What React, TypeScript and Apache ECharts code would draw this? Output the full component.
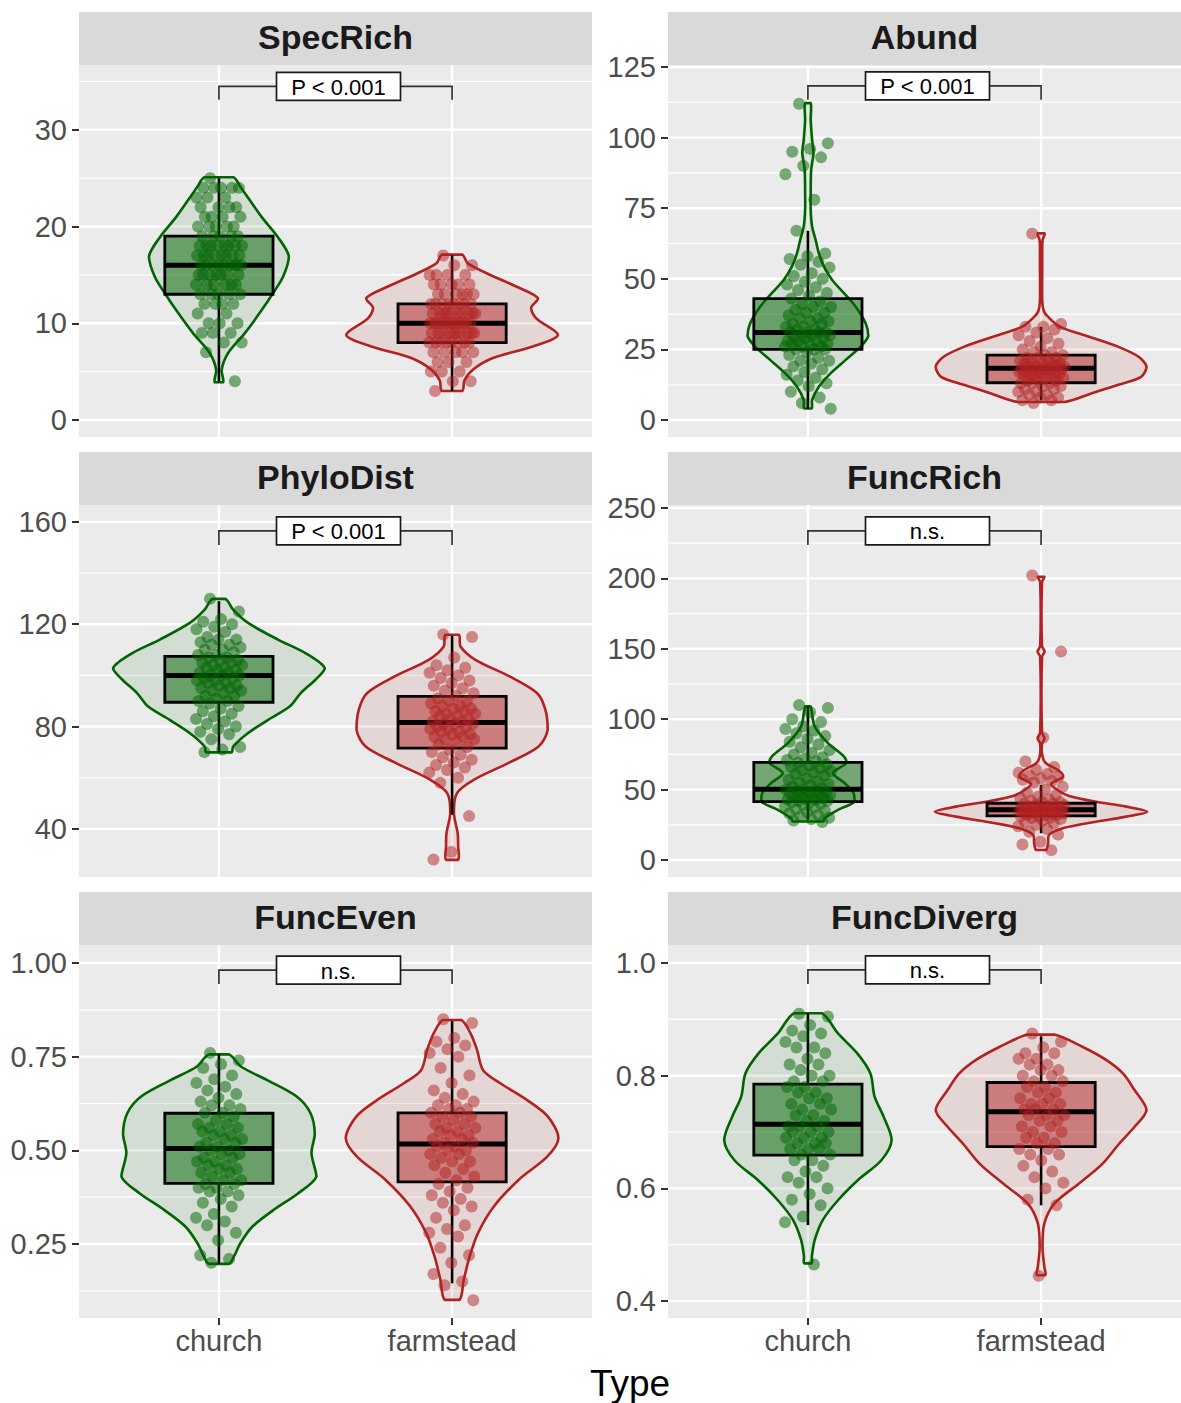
import React, { useEffect, useRef } from 'react';
import * as echarts from 'echarts';

// ---------------- data ----------------
const CATEGORIES = ['church', 'farmstead'];
const PANEL_TITLES = ['SpecRich', 'Abund', 'PhyloDist', 'FuncRich', 'FuncEven', 'FuncDiverg'];
const SIG_LABELS = ['P < 0.001', 'P < 0.001', 'P < 0.001', 'n.s.', 'n.s.', 'n.s.'];
const AXIS_TITLE = 'Type';

const Y_RANGES = [[-1.76, 36.7], [-6.0, 125.7], [21.2, 166.6], [-12.07, 252.1], [0.0525, 1.048], [0.37, 1.032]];
const Y_TICKS = [[0, 10, 20, 30], [0, 25, 50, 75, 100, 125], [40, 80, 120, 160], [0, 50, 100, 150, 200, 250], [0.25, 0.5, 0.75, 1.0], [0.4, 0.6, 0.8, 1.0]];
const Y_TICK_LABELS = [['0', '10', '20', '30'], ['0', '25', '50', '75', '100', '125'], ['40', '80', '120', '160'], ['0', '50', '100', '150', '200', '250'], ['0.25', '0.50', '0.75', '1.00'], ['0.4', '0.6', '0.8', '1.0']];
const Y_MINOR = [[5, 15, 25, 35], [12.5, 37.5, 62.5, 87.5, 112.5], [60, 100, 140], [25, 75, 125, 175, 225], [0.125, 0.375, 0.625, 0.875], [0.5, 0.7, 0.9]];
// bracket: [level of horizontal line, lower end of the ticks]
const BRACKETS = [[34.5, 33.1], [118.3, 113.4], [156.5, 151.0], [233.7, 223.7], [0.981, 0.944], [0.988, 0.963]];

// box stats: [lower whisker, q1, median, q3, upper whisker]
const BOX_STATS = [
  [[4, 13, 16, 19, 25], [3, 8, 10, 12, 17]],
  [[4, 25, 31, 43, 67], [7, 13.2, 18.3, 23, 33]],
  [[70, 89.5, 100, 107.4, 129], [45.5, 71.6, 81.6, 91.8, 115.5]],
  [[28.5, 41.5, 50.3, 69.3, 109], [19, 31.3, 35.6, 40.3, 53.4]],
  [[0.197, 0.412, 0.505, 0.599, 0.756], [0.145, 0.416, 0.517, 0.6, 0.845]],
  [[0.535, 0.659, 0.714, 0.785, 0.91], [0.57, 0.674, 0.736, 0.788, 0.87]],
];

// violin outlines: [y value, half width in x-axis units], top to bottom
const VIOLIN_SPECRICH_CHURCH = [[25.1, 0.062], [24.2, 0.09], [23.5, 0.11], [21.0, 0.183], [18.9, 0.253], [16.9, 0.3], [14.8, 0.275], [13.1, 0.232], [11.1, 0.176], [9.0, 0.112], [6.9, 0.039], [5.2, 0.012], [3.9, 0.018]];
const VIOLIN_SPECRICH_FARM = [[17.1, 0.043], [16.2, 0.067], [15.2, 0.146], [13.8, 0.275], [12.6, 0.368], [11.6, 0.339], [10.5, 0.361], [8.8, 0.454], [7.6, 0.346], [6.4, 0.175], [5.2, 0.089], [4.1, 0.053], [3.0, 0.043]];
const VIOLIN_ABUND_CHURCH = [[112.2, 0.012], [106.3, 0.012], [99.2, 0.018], [94.5, 0.024], [88.6, 0.014], [80.3, 0.012], [74.4, 0.012], [68.5, 0.018], [63.8, 0.033], [59.0, 0.047], [54.3, 0.069], [49.6, 0.104], [44.9, 0.155], [40.1, 0.205], [34.2, 0.248], [29.8, 0.259], [26.0, 0.226], [21.3, 0.162], [16.5, 0.097], [11.8, 0.047], [7.1, 0.018], [4.1, 0.016]];
const VIOLIN_ABUND_FARM = [[66.1, 0.015], [63.5, 0.006], [55, 0.005], [42, 0.005], [38.5, 0.012], [36.6, 0.029], [33.1, 0.08], [29.5, 0.206], [26.0, 0.329], [22.4, 0.418], [18.9, 0.452], [15.3, 0.429], [12.4, 0.328], [9.4, 0.215], [6.4, 0.1]];
const VIOLIN_PHYLO_CHURCH = [[129.9, 0.028], [125.7, 0.061], [120.5, 0.125], [114.0, 0.253], [108.7, 0.371], [102.8, 0.454], [98.3, 0.414], [93.1, 0.351], [87.8, 0.303], [82.6, 0.211], [77.4, 0.124], [72.2, 0.061], [69.9, 0.054]];
const VIOLIN_PHYLO_FARM = [[115.9, 0.029], [111.3, 0.036], [106.1, 0.1], [99.6, 0.246], [93.1, 0.364], [86.6, 0.4], [78.7, 0.41], [72.2, 0.371], [65.7, 0.24], [59.2, 0.093], [54.0, 0.021], [46.1, 0.008], [38.3, 0.024], [33.1, 0.026], [27.9, 0.026]];
const VIOLIN_FUNCRICH_CHURCH = [[109.1, 0.011], [94.9, 0.029], [83.0, 0.086], [73.5, 0.155], [68.8, 0.164], [61.7, 0.108], [54.6, 0.158], [47.5, 0.196], [41.5, 0.2], [35.6, 0.129], [29.7, 0.072], [27.3, 0.064]];
const VIOLIN_FUNCRICH_FARM = [[201.2, 0.014], [197.2, 0.004], [152, 0.004], [148.1, 0.015], [144.2, 0.004], [90.5, 0.004], [86.4, 0.015], [82.5, 0.004], [73.5, 0.006], [68.7, 0.021], [63.9, 0.073], [59.2, 0.094], [54.0, 0.043], [49.7, 0.07], [45.5, 0.12], [41.4, 0.236], [37.9, 0.365], [34.3, 0.455], [30.8, 0.365], [27.2, 0.236], [22.5, 0.093], [17.8, 0.034], [11.9, 0.03], [7.1, 0.021]];
const VIOLIN_FUNCEVEN_CHURCH = [[0.756, 0.043], [0.723, 0.096], [0.688, 0.205], [0.643, 0.335], [0.599, 0.393], [0.545, 0.411], [0.492, 0.397], [0.43, 0.418], [0.385, 0.339], [0.341, 0.235], [0.296, 0.143], [0.252, 0.092], [0.216, 0.064], [0.197, 0.043]];
const VIOLIN_FUNCEVEN_FARM = [[0.848, 0.039], [0.812, 0.079], [0.768, 0.107], [0.714, 0.133], [0.679, 0.207], [0.634, 0.322], [0.59, 0.411], [0.532, 0.456], [0.483, 0.408], [0.421, 0.285], [0.35, 0.179], [0.279, 0.111], [0.216, 0.075], [0.154, 0.05], [0.101, 0.032]];
const VIOLIN_FUNCDIV_CHURCH = [[0.911, 0.059], [0.875, 0.129], [0.84, 0.211], [0.804, 0.268], [0.763, 0.286], [0.727, 0.325], [0.686, 0.359], [0.65, 0.315], [0.615, 0.215], [0.579, 0.129], [0.544, 0.064], [0.508, 0.029], [0.479, 0.017], [0.467, 0.016]];
const VIOLIN_FUNCDIV_FARM = [[0.873, 0.057], [0.851, 0.179], [0.828, 0.279], [0.804, 0.351], [0.775, 0.4], [0.739, 0.452], [0.709, 0.4], [0.68, 0.336], [0.644, 0.264], [0.609, 0.164], [0.573, 0.057], [0.538, 0.014], [0.496, 0.006], [0.461, 0.014], [0.446, 0.018]];

// jittered observations (y values)
const PTS_SPECRICH_CHURCH = [25, 24, 24, 24, 24, 24, 23, 23, 23, 22, 22, 22, 22, 21, 21, 21, 21, 20, 20, 20, 20, 20, 19, 19, 19, 19, 19, 18, 18, 18, 18, 18, 18, 18, 18, 17, 17, 17, 17, 17, 17, 17, 17, 16, 16, 16, 16, 16, 16, 16, 16, 16, 15, 15, 15, 15, 15, 15, 15, 14, 14, 14, 14, 14, 14, 13, 13, 13, 13, 13, 12, 12, 12, 12, 11, 11, 10, 10, 10, 9, 9, 9, 8, 8, 7, 4];
const PTS_SPECRICH_FARM = [17, 16, 16, 15, 15, 15, 15, 14, 14, 14, 14, 14, 13, 13, 13, 13, 13, 13, 12, 12, 12, 12, 12, 12, 12, 12, 11, 11, 11, 11, 11, 11, 11, 11, 11, 11, 10, 10, 10, 10, 10, 10, 10, 10, 10, 10, 10, 10, 9, 9, 9, 9, 9, 9, 9, 9, 9, 9, 8, 8, 8, 8, 8, 8, 8, 8, 7, 7, 7, 7, 7, 6, 6, 6, 5, 5, 5, 4, 4, 3];
const PTS_ABUND_CHURCH = [112, 98, 96, 95, 93, 90, 87, 78, 67, 59, 58, 57, 56, 55, 54, 52, 51, 50, 49, 48, 47, 46, 45, 44, 43, 42, 41, 40, 40, 39, 38, 38, 37, 36, 36, 35, 35, 34, 34, 33, 33, 32, 32, 31, 31, 31, 31, 30, 30, 30, 29, 29, 29, 28, 28, 28, 27, 27, 27, 26, 26, 26, 25, 25, 25, 24, 23, 22, 21, 21, 20, 19, 18, 17, 16, 15, 14, 13, 12, 10, 8, 6, 4];
const PTS_ABUND_FARM = [66, 34, 33, 33, 32, 31, 30, 29, 28, 27, 26, 25, 24, 24, 23, 23, 22, 22, 22, 21, 21, 21, 20, 20, 20, 20, 19, 19, 19, 19, 19, 18, 18, 18, 18, 18, 18, 17, 17, 17, 17, 17, 16, 16, 16, 16, 15, 15, 15, 15, 14, 14, 14, 13, 13, 13, 12, 12, 11, 11, 10, 10, 9, 9, 8, 8, 7, 7, 6];
const PTS_PHYLO_CHURCH = [130, 125, 122, 121, 120, 119, 118, 117, 115, 114, 114, 113, 112, 112, 111, 110, 110, 109, 108, 108, 107, 107, 106, 106, 105, 105, 104, 104, 103, 103, 102, 102, 101, 101, 100, 100, 100, 99, 99, 98, 98, 97, 97, 96, 96, 95, 95, 94, 94, 93, 92, 92, 91, 90, 90, 89, 88, 87, 86, 85, 84, 83, 82, 81, 80, 79, 78, 77, 75, 72, 71, 70];
const PTS_PHYLO_FARM = [116, 115, 107, 104, 103, 102, 101, 100, 99, 98, 97, 96, 95, 94, 93, 92, 91, 90, 90, 89, 88, 88, 87, 87, 86, 86, 85, 85, 84, 84, 83, 83, 82, 82, 81, 81, 81, 80, 80, 79, 79, 78, 78, 77, 77, 76, 76, 75, 75, 74, 73, 72, 71, 70, 69, 68, 67, 66, 65, 64, 63, 62, 60, 58, 45, 31, 28];
const PTS_FUNCRICH_CHURCH = [110, 108, 105, 100, 98, 95, 93, 92, 90, 88, 86, 84, 82, 80, 78, 76, 75, 73, 72, 71, 70, 69, 68, 67, 66, 65, 64, 63, 62, 61, 60, 58, 57, 56, 55, 54, 53, 52, 51, 50, 50, 49, 49, 48, 48, 47, 47, 46, 46, 45, 45, 44, 44, 43, 43, 42, 42, 41, 41, 40, 39, 38, 37, 36, 35, 34, 33, 32, 31, 30, 29, 28, 27];
const PTS_FUNCRICH_FARM = [202, 148, 87, 70, 66, 64, 62, 61, 60, 59, 58, 57, 56, 55, 52, 50, 48, 46, 45, 44, 43, 42, 41, 41, 40, 40, 39, 39, 38, 38, 38, 37, 37, 37, 36, 36, 36, 36, 35, 35, 35, 35, 34, 34, 34, 34, 33, 33, 33, 32, 32, 32, 31, 31, 30, 30, 29, 28, 27, 26, 25, 24, 22, 20, 18, 13, 11, 7];
const PTS_FUNCEVEN_CHURCH = [0.76, 0.74, 0.73, 0.72, 0.7, 0.69, 0.68, 0.67, 0.66, 0.65, 0.64, 0.63, 0.62, 0.62, 0.61, 0.6, 0.6, 0.59, 0.58, 0.57, 0.57, 0.56, 0.56, 0.55, 0.55, 0.54, 0.54, 0.53, 0.53, 0.52, 0.52, 0.51, 0.51, 0.5, 0.5, 0.49, 0.49, 0.48, 0.48, 0.47, 0.47, 0.46, 0.46, 0.45, 0.45, 0.44, 0.44, 0.43, 0.42, 0.42, 0.41, 0.41, 0.4, 0.4, 0.39, 0.39, 0.38, 0.37, 0.36, 0.35, 0.33, 0.32, 0.31, 0.3, 0.28, 0.26, 0.22, 0.21, 0.2];
const PTS_FUNCEVEN_FARM = [0.85, 0.84, 0.8, 0.79, 0.78, 0.77, 0.76, 0.75, 0.72, 0.7, 0.68, 0.66, 0.65, 0.64, 0.63, 0.62, 0.62, 0.61, 0.61, 0.6, 0.6, 0.59, 0.59, 0.58, 0.57, 0.57, 0.56, 0.56, 0.55, 0.55, 0.54, 0.54, 0.53, 0.53, 0.52, 0.52, 0.51, 0.51, 0.5, 0.5, 0.49, 0.49, 0.48, 0.47, 0.47, 0.46, 0.45, 0.44, 0.43, 0.42, 0.41, 0.4, 0.39, 0.38, 0.37, 0.36, 0.35, 0.34, 0.32, 0.3, 0.29, 0.28, 0.27, 0.24, 0.22, 0.2, 0.17, 0.15, 0.14, 0.1];
const PTS_FUNCDIV_CHURCH = [0.91, 0.905, 0.89, 0.88, 0.875, 0.87, 0.86, 0.85, 0.85, 0.84, 0.83, 0.82, 0.82, 0.81, 0.8, 0.8, 0.79, 0.79, 0.78, 0.78, 0.77, 0.77, 0.76, 0.76, 0.75, 0.75, 0.74, 0.74, 0.73, 0.73, 0.72, 0.72, 0.71, 0.71, 0.71, 0.7, 0.7, 0.7, 0.69, 0.69, 0.69, 0.68, 0.68, 0.68, 0.67, 0.67, 0.67, 0.66, 0.66, 0.65, 0.65, 0.64, 0.63, 0.62, 0.62, 0.61, 0.6, 0.59, 0.58, 0.57, 0.55, 0.54, 0.465];
const PTS_FUNCDIV_FARM = [0.875, 0.86, 0.85, 0.84, 0.84, 0.83, 0.83, 0.82, 0.82, 0.81, 0.81, 0.8, 0.8, 0.79, 0.79, 0.78, 0.78, 0.77, 0.77, 0.76, 0.76, 0.75, 0.75, 0.75, 0.74, 0.74, 0.74, 0.73, 0.73, 0.73, 0.72, 0.72, 0.71, 0.71, 0.7, 0.7, 0.69, 0.69, 0.68, 0.68, 0.67, 0.67, 0.66, 0.66, 0.65, 0.64, 0.63, 0.62, 0.61, 0.6, 0.58, 0.57, 0.445];

const VIOLINS = [
  [VIOLIN_SPECRICH_CHURCH, VIOLIN_SPECRICH_FARM],
  [VIOLIN_ABUND_CHURCH, VIOLIN_ABUND_FARM],
  [VIOLIN_PHYLO_CHURCH, VIOLIN_PHYLO_FARM],
  [VIOLIN_FUNCRICH_CHURCH, VIOLIN_FUNCRICH_FARM],
  [VIOLIN_FUNCEVEN_CHURCH, VIOLIN_FUNCEVEN_FARM],
  [VIOLIN_FUNCDIV_CHURCH, VIOLIN_FUNCDIV_FARM],
];
const POINTS = [
  [PTS_SPECRICH_CHURCH, PTS_SPECRICH_FARM],
  [PTS_ABUND_CHURCH, PTS_ABUND_FARM],
  [PTS_PHYLO_CHURCH, PTS_PHYLO_FARM],
  [PTS_FUNCRICH_CHURCH, PTS_FUNCRICH_FARM],
  [PTS_FUNCEVEN_CHURCH, PTS_FUNCEVEN_FARM],
  [PTS_FUNCDIV_CHURCH, PTS_FUNCDIV_FARM],
];

// ---------------- styles ----------------
const FONT = "'Liberation Sans', Arial, Helvetica, sans-serif";
const LINE_COLORS = ['#006400', '#B22222'];
const VIOLIN_FILLS = ['rgba(0,100,0,0.1)', 'rgba(178,34,34,0.1)'];
const BOX_FILLS = ['rgba(0,100,0,0.5)', 'rgba(178,34,34,0.5)'];
const BOX_HALF = 0.232;
const JITTER_HALF = 0.1;
const PANEL_LEFTS = [79, 668];
const PANEL_TOPS = [65, 505, 945];
const PANEL_HEIGHTS = [372, 372, 373];
const PANEL_WIDTH = 513;
const STRIP_H = 53;

function jitter(i: number) {
  return (((i * 0.6180339887 + 0.31) % 1) - 0.5) * 2 * JITTER_HALF;
}

function buildOption() {
  const grid: any[] = [];
  const xAxis: any[] = [];
  const yAxis: any[] = [];
  const series: any[] = [];
  const graphic: any[] = [];

  PANEL_TITLES.forEach((title, p) => {
    const col = p % 2;
    const row = Math.floor(p / 2);
    const left = PANEL_LEFTS[col];
    const top = PANEL_TOPS[row];
    const height = PANEL_HEIGHTS[row];
    const bottomRow = row === 2;

    grid.push({ left, top, width: PANEL_WIDTH, height, show: true, backgroundColor: '#EBEBEB', borderWidth: 0 });

    xAxis.push({
      type: 'value', gridIndex: p, min: 0.4, max: 2.6,
      axisLine: { show: false }, splitLine: { show: false },
      axisTick: { show: bottomRow, customValues: [1, 2], length: 7, lineStyle: { color: '#333333', width: 2 } },
      axisLabel: {
        show: bottomRow, customValues: [1, 2], margin: 8,
        formatter: (v: number) => CATEGORIES[Math.round(v) - 1] ?? '',
        color: '#4D4D4D', fontSize: 29, fontFamily: FONT,
      },
    });

    yAxis.push({
      type: 'value', gridIndex: p, min: Y_RANGES[p][0], max: Y_RANGES[p][1],
      axisLine: { show: false }, splitLine: { show: false },
      axisTick: { show: true, customValues: Y_TICKS[p], length: 7, lineStyle: { color: '#333333', width: 2 } },
      axisLabel: {
        show: true, customValues: Y_TICKS[p], margin: 12,
        formatter: (v: number) => {
          const k = Y_TICKS[p].findIndex((t) => Math.abs(t - v) < 1e-9);
          return k >= 0 ? Y_TICK_LABELS[p][k] : String(v);
        },
        color: '#4D4D4D', fontSize: 29, fontFamily: FONT,
      },
    });

    // grid lines
    series.push({
      type: 'custom', xAxisIndex: p, yAxisIndex: p, z: 1, silent: true,
      data: [[1, Y_RANGES[p][0]]],
      renderItem: (params: any, api: any) => {
        const cs = params.coordSys;
        const children: any[] = [];
        Y_MINOR[p].forEach((v) => {
          const y = api.coord([1, v])[1];
          children.push({ type: 'line', shape: { x1: cs.x, y1: y, x2: cs.x + cs.width, y2: y }, style: { stroke: '#FFFFFF', lineWidth: 1.2 } });
        });
        Y_TICKS[p].forEach((v) => {
          const y = api.coord([1, v])[1];
          children.push({ type: 'line', shape: { x1: cs.x, y1: y, x2: cs.x + cs.width, y2: y }, style: { stroke: '#FFFFFF', lineWidth: 2.4 } });
        });
        [1, 2].forEach((c) => {
          const x = api.coord([c, Y_RANGES[p][0]])[0];
          children.push({ type: 'line', shape: { x1: x, y1: cs.y, x2: x, y2: cs.y + cs.height }, style: { stroke: '#FFFFFF', lineWidth: 2.4 } });
        });
        return { type: 'group', children };
      },
    });

    // violins
    series.push({
      type: 'custom', xAxisIndex: p, yAxisIndex: p, z: 2, silent: true,
      data: [[0, 0], [1, 0]],
      renderItem: (params: any, api: any) => {
        const g = api.value(0);
        const prof = VIOLINS[p][g];
        const cx = g + 1;
        const right = prof.map(([v, w]) => api.coord([cx + w, v]));
        const leftSide = prof.slice().reverse().map(([v, w]) => api.coord([cx - w, v]));
        const pts = right.concat(leftSide);
        let minX = Infinity, minY = Infinity, maxX = -Infinity, maxY = -Infinity;
        pts.forEach((q: number[]) => {
          minX = Math.min(minX, q[0]); maxX = Math.max(maxX, q[0]);
          minY = Math.min(minY, q[1]); maxY = Math.max(maxY, q[1]);
        });
        return {
          type: 'polygon',
          shape: { points: pts, smooth: 0.3, smoothConstraint: [[minX, minY], [maxX, maxY]] },
          style: { fill: VIOLIN_FILLS[g], stroke: LINE_COLORS[g], lineWidth: 2.6, lineJoin: 'round' },
        };
      },
    });

    // boxes
    series.push({
      type: 'custom', xAxisIndex: p, yAxisIndex: p, z: 3, silent: true,
      data: BOX_STATS[p].map((b, g) => [g + 1, ...b]),
      renderItem: (params: any, api: any) => {
        const cx = api.value(0);
        const lo = api.value(1), q1 = api.value(2), med = api.value(3), q3 = api.value(4), hi = api.value(5);
        const tl = api.coord([cx - BOX_HALF, q3]);
        const br = api.coord([cx + BOX_HALF, q1]);
        const xc = api.coord([cx, med])[0];
        const yMed = api.coord([cx, med])[1];
        const yLo = api.coord([cx, lo])[1];
        const yHi = api.coord([cx, hi])[1];
        const g = Math.round(cx) - 1;
        return {
          type: 'group',
          children: [
            { type: 'line', shape: { x1: xc, y1: tl[1], x2: xc, y2: yHi }, style: { stroke: '#000000', lineWidth: 2.6 } },
            { type: 'line', shape: { x1: xc, y1: br[1], x2: xc, y2: yLo }, style: { stroke: '#000000', lineWidth: 2.6 } },
            { type: 'rect', shape: { x: tl[0], y: tl[1], width: br[0] - tl[0], height: br[1] - tl[1] }, style: { fill: BOX_FILLS[g], stroke: '#000000', lineWidth: 2.8 } },
            { type: 'line', shape: { x1: tl[0], y1: yMed, x2: br[0], y2: yMed }, style: { stroke: '#000000', lineWidth: 5 } },
          ],
        };
      },
    });

    // jittered points
    [0, 1].forEach((g) => {
      series.push({
        type: 'scatter', xAxisIndex: p, yAxisIndex: p, z: 4, silent: true,
        symbol: 'circle', symbolSize: 12,
        itemStyle: { color: LINE_COLORS[g], opacity: 0.5, borderWidth: 0 },
        data: POINTS[p][g].map((v, i) => [g + 1 + jitter(i), v]),
      });
    });

    // significance bracket
    series.push({
      type: 'custom', xAxisIndex: p, yAxisIndex: p, z: 5, silent: true,
      data: [[1, BRACKETS[p][0], 2, BRACKETS[p][1]]],
      renderItem: (params: any, api: any) => {
        const a = api.coord([api.value(0), api.value(1)]);
        const b = api.coord([api.value(2), api.value(1)]);
        const yb = api.coord([1, api.value(3)])[1];
        const mx = (a[0] + b[0]) / 2 + 3;
        return {
          type: 'group',
          children: [
            { type: 'polyline', shape: { points: [[a[0], yb], [a[0], a[1]], [b[0], b[1]], [b[0], yb]] }, style: { stroke: '#333333', lineWidth: 1.7, fill: null } },
            { type: 'rect', shape: { x: mx - 62, y: a[1] - 14, width: 124, height: 28 }, style: { fill: '#FFFFFF', stroke: '#1A1A1A', lineWidth: 1.7 } },
            { type: 'text', x: mx, y: a[1] + 1, style: { text: SIG_LABELS[p], fontSize: 22, fontFamily: FONT, fill: '#000000', align: 'center', verticalAlign: 'middle' } },
          ],
        };
      },
    });

    // strip
    graphic.push({ type: 'rect', shape: { x: left, y: top - STRIP_H, width: PANEL_WIDTH, height: STRIP_H }, style: { fill: '#D9D9D9' }, silent: true });
    graphic.push({
      type: 'text', x: left + PANEL_WIDTH / 2, y: top - STRIP_H / 2 - 1.5, silent: true,
      style: { text: title, fontSize: 34, fontWeight: 'bold', fontFamily: FONT, fill: '#1A1A1A', align: 'center', verticalAlign: 'middle' },
    });
  });

  graphic.push({
    type: 'text', x: PANEL_LEFTS[0] + (PANEL_LEFTS[1] + PANEL_WIDTH - PANEL_LEFTS[0]) / 2, y: 1383, silent: true,
    style: { text: AXIS_TITLE, fontSize: 37, fontFamily: FONT, fill: '#000000', align: 'center', verticalAlign: 'middle' },
  });

  return {
    animation: false,
    backgroundColor: '#FFFFFF',
    grid, xAxis, yAxis, series, graphic,
  };
}

export default function App() {
  const ref = useRef<HTMLDivElement>(null);
  useEffect(() => {
    document.body.style.margin = '0';
    const chart = echarts.init(ref.current as HTMLDivElement, undefined, { renderer: 'svg' });
    chart.setOption(buildOption() as any);
    return () => chart.dispose();
  }, []);
  return <div ref={ref} style={{ width: 1181, height: 1403, background: '#FFFFFF' }} />;
}
